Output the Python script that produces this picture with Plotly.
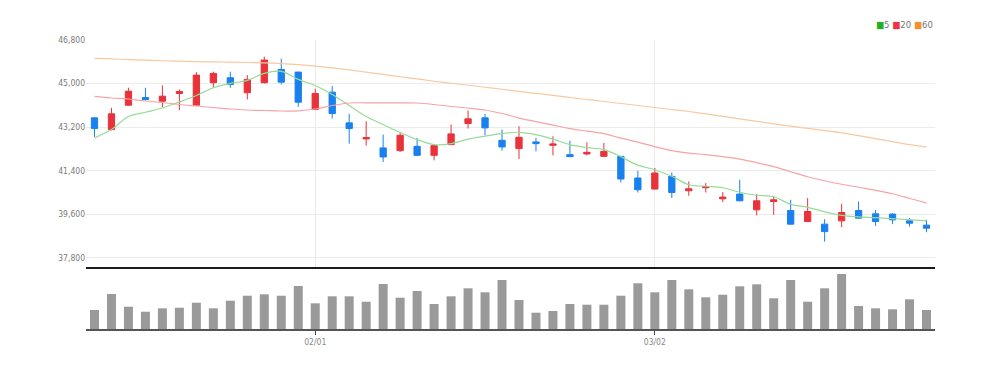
import plotly.graph_objects as go

dates = ["01/11","01/12","01/13","01/16","01/17","01/18","01/19","01/20","01/25","01/26",
         "01/27","01/30","01/31","02/01","02/02","02/03","02/06","02/07","02/08","02/09",
         "02/10","02/13","02/14","02/15","02/16","02/17","02/20","02/21","02/22","02/23",
         "02/24","02/27","02/28","03/02","03/03","03/06","03/07","03/08","03/09","03/10",
         "03/13","03/14","03/15","03/16","03/17","03/20","03/21","03/22","03/23","03/24"]

opens = [43580,43094,44102,44422,44269,44588,44102,45032,45240,44617,
         45032,45584,45472,43924,44642,43372,42708,42335,42223,42401,
         42028,42472,43343,43580,42650,42306,42583,42443,42057,42086,
         41986,41986,41090,40633,41156,40562,40687,40230,40425,39774,
         40119,39745,39289,39181,39317,39745,39608,39596,39317,39139]
highs = [43600,43995,44825,44825,44920,44754,45472,45489,45489,45348,
         46111,46028,45490,44783,44891,43746,43438,42887,42982,42750,
         42440,43301,43883,43746,43094,43231,42750,42816,42638,42567,
         42542,42000,41393,41505,41322,40948,40882,40509,41019,40425,
         40326,40189,40260,39388,40023,40119,39774,39637,39430,39359]
lows = [42791,43053,44080,44300,44020,43895,44100,44825,44825,44339,
        45000,44962,44036,43900,43551,42513,42430,41754,42168,42000,
        41820,42460,43136,42858,42223,41878,42193,42028,41960,42028,
        41980,40907,40492,40620,40260,40355,40492,40094,40130,39538,
        39566,39170,39280,38458,39056,39420,39110,39181,39081,38849]
closes = [43136,43746,44683,44339,44476,44671,45348,45418,44962,45169,
          45970,45057,44227,44588,43758,43136,42762,41961,42858,42028,
          42430,42916,43538,43165,42376,42775,42513,42500,41974,42152,
          42193,41048,40604,41297,40492,40645,40741,40301,40147,40147,
          40189,39181,39704,38873,39662,39430,39289,39359,39222,39015]

ma5 = [42750,43094,43634,43812,43986,44235,44505,44825,45003,45128,
       45418,45501,45169,44920,44547,44090,43634,43302,42970,42679,
       42472,42513,42700,42824,42928,42982,42887,42700,42472,42347,
       42264,41974,41621,41434,41164,40812,40749,40687,40500,40376,
       40314,40002,39878,39691,39546,39484,39450,39409,39367,39318]
ma20 = [44464,44401,44360,44277,44215,44132,44069,44007,43945,43903,
        43883,43862,43870,43945,44090,44194,44202,44202,44202,44194,
        44132,44049,43986,43903,43758,43571,43426,43281,43136,43032,
        42928,42741,42575,42389,42223,42119,42057,41974,41870,41725,
        41559,41351,41144,40978,40832,40708,40583,40438,40251,40052]
ma60 = [46041,46016,45991,45966,45941,45924,45908,45895,45883,45870,
        45854,45825,45779,45717,45646,45563,45468,45377,45281,45190,
        45094,45011,44928,44845,44762,44671,44588,44505,44422,44339,
        44256,44173,44090,44007,43924,43841,43746,43642,43538,43434,
        43331,43235,43144,43053,42957,42845,42721,42596,42472,42376]
volumes = [190000,350000,223000,173000,207000,213000,263000,207000,283000,333000,
           347000,333000,430000,257000,327000,327000,273000,450000,313000,380000,
           250000,327000,407000,367000,490000,290000,163000,180000,250000,243000,
           243000,333000,457000,367000,490000,397000,317000,343000,427000,447000,
           307000,490000,273000,407000,550000,230000,207000,197000,297000,190000]

price_ticks = [37800, 39600, 41400, 43200, 45000, 46800]
date_ticks = ["02/01", "03/02"]

RED = "#E8333B"
BLUE = "#1A80EE"
FONT = "Liberation Sans Narrow, DejaVu Sans Condensed, Arial Narrow, sans-serif"

fig = go.Figure()
fig.add_trace(go.Candlestick(
    x=dates, open=opens, high=highs, low=lows, close=closes,
    increasing=dict(line=dict(color=RED, width=1), fillcolor=RED),
    decreasing=dict(line=dict(color=BLUE, width=1), fillcolor=BLUE),
    whiskerwidth=0, xaxis="x", yaxis="y", hoverinfo="skip"))
for vals, col in [(ma5, "#95DC95"), (ma20, "#F6A3A7"), (ma60, "#F8C8A0")]:
    fig.add_trace(go.Scatter(x=dates, y=vals, mode="lines",
                             line=dict(color=col, width=1.2, shape="spline"),
                             xaxis="x", yaxis="y", hoverinfo="skip"))
fig.add_trace(go.Bar(x=dates, y=volumes, marker=dict(color="#9A9A9A", line=dict(width=0)),
                     xaxis="x2", yaxis="y2", hoverinfo="skip"))

fig.update_layout(
    width=987, height=362,
    margin=dict(l=78, r=60, t=32, b=41),
    paper_bgcolor="white", plot_bgcolor="white",
    showlegend=False, boxgap=0.47, bargap=0.47,
    font=dict(family=FONT, size=8.5, color="#777777"),
    xaxis=dict(type="category", range=[-0.5, 49.5], anchor="y",
               rangeslider=dict(visible=False),
               tickvals=date_ticks, showticklabels=False, ticks="",
               showgrid=True, gridcolor="#EBEBEB", gridwidth=1,
               showline=True, linecolor="#1A1A1A", linewidth=2, mirror=False,
               zeroline=False),
    yaxis=dict(domain=[0.2145, 1.0], range=[37408, 46800],
               tickvals=price_ticks, tickformat=",d",
               showgrid=True, gridcolor="#ECECEC", gridwidth=1,
               zeroline=False, showline=False, ticks="",
               tickfont=dict(family=FONT, size=8.5, color="#7A7A7A")),
    xaxis2=dict(type="category", range=[-0.5, 49.5], anchor="y2",
                tickvals=date_ticks, ticktext=date_ticks,
                ticks="outside", ticklen=4, tickcolor="#444444",
                showgrid=False, showline=True, linecolor="#555555", linewidth=2,
                tickfont=dict(family=FONT, size=8.5, color="#888888"),
                zeroline=False),
    yaxis2=dict(domain=[0.0, 0.211], range=[0, 610000],
                showticklabels=False, showgrid=False, zeroline=False,
                showline=False, ticks=""),
)

fig.add_annotation(
    xref="paper", yref="paper", x=1.0, y=1.052, xanchor="right", yanchor="middle",
    showarrow=False,
    text=("<span style='color:#22B022'>■</span>5 "
          "<span style='color:#EE3344'>■</span>20 "
          "<span style='color:#F39030'>■</span>60"),
    font=dict(family=FONT, size=9.5, color="#777777"))

fig.write_html("out.html")
